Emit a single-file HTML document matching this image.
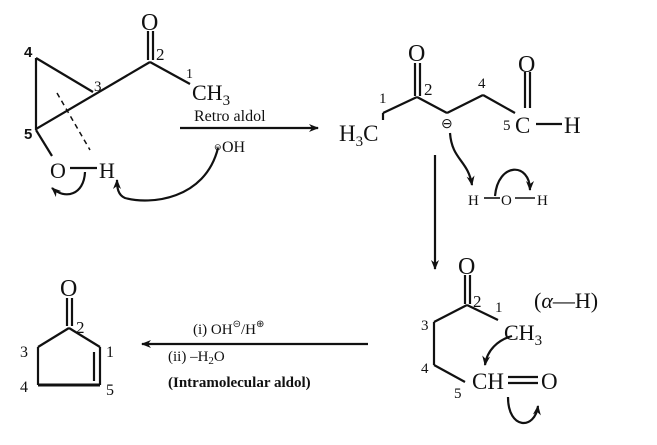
<!DOCTYPE html>
<html><head><meta charset="utf-8"><style>
html,body{margin:0;padding:0;background:#fff}
svg{display:block}
text{font-family:"Liberation Serif",serif;fill:#111}
.s{font-family:"Liberation Sans",sans-serif}
</style></head><body>
<svg width="657" height="445" viewBox="0 0 657 445" xmlns="http://www.w3.org/2000/svg">
<defs><marker id="a" markerWidth="10" markerHeight="8" refX="9" refY="4" orient="auto" markerUnits="userSpaceOnUse"><path d="M0,0 L10,4 L0,8 L3,4z" fill="#111"/></marker></defs>
<g stroke="#111" stroke-width="2.2" fill="none">
<!-- top-left -->
<line x1="148" y1="31" x2="148" y2="60"/><line x1="153" y1="31" x2="153" y2="60"/>
<line x1="150" y1="62" x2="190" y2="84"/>
<line x1="36" y1="129" x2="150" y2="62"/>
<line x1="36" y1="58" x2="93" y2="92"/>
<line x1="36" y1="58" x2="36" y2="130"/>
<line x1="36" y1="130" x2="52" y2="156"/>
<line x1="57" y1="93" x2="90" y2="150" stroke-dasharray="5,4" stroke-width="1.5"/>
<line x1="70" y1="168" x2="97" y2="168"/>
<line x1="180" y1="128" x2="318" y2="128" marker-end="url(#a)"/>
<path d="M218,148 C205,200 150,205 125,198 C118,195 117,188 117,180" marker-end="url(#a)"/>
<path d="M85,172 C84,195 65,200 52,188" marker-end="url(#a)"/>
<!-- top-right -->
<line x1="415" y1="63" x2="415" y2="96"/><line x1="420" y1="63" x2="420" y2="96"/>
<line x1="383" y1="113" x2="417" y2="97"/><line x1="417" y1="97" x2="447" y2="113"/>
<line x1="447" y1="113" x2="483" y2="95"/><line x1="483" y1="95" x2="515" y2="113"/>
<line x1="525" y1="72" x2="525" y2="108"/><line x1="530" y1="72" x2="530" y2="108"/>
<line x1="536" y1="124" x2="562" y2="124"/>
<line x1="383" y1="113" x2="383" y2="120"/>
<path d="M450,133 C452,160 468,160 472,185" marker-end="url(#a)"/>
<line x1="484" y1="198" x2="500" y2="198" stroke-width="1.6"/><line x1="515" y1="198" x2="535" y2="198" stroke-width="1.6"/>
<path d="M495,196 C498,162 530,162 530,190" marker-end="url(#a)"/>
<line x1="435" y1="155" x2="435" y2="269" marker-end="url(#a)"/>
<!-- bottom-right -->
<line x1="465" y1="275" x2="465" y2="304"/><line x1="470" y1="275" x2="470" y2="304"/>
<line x1="467" y1="305" x2="434" y2="322"/><line x1="467" y1="305" x2="498" y2="320"/>
<line x1="434" y1="322" x2="434" y2="365"/><line x1="434" y1="365" x2="465" y2="382"/>
<line x1="508" y1="377" x2="538" y2="377"/><line x1="508" y1="383" x2="538" y2="383"/>
<path d="M512,336 C498,340 487,350 485,365" marker-end="url(#a)"/>
<path d="M508,397 C508,430 535,430 538,406" marker-end="url(#a)"/>
<!-- arrow bottom -->
<line x1="368" y1="344" x2="142" y2="344" marker-end="url(#a)"/>
<!-- bottom-left -->
<line x1="67" y1="298" x2="67" y2="326"/><line x1="72" y1="298" x2="72" y2="326"/>
<line x1="69" y1="328" x2="38" y2="347"/><line x1="69" y1="328" x2="100" y2="347"/>
<line x1="38" y1="347" x2="38" y2="385"/><line x1="100" y1="347" x2="100" y2="385"/>
<line x1="94" y1="352" x2="94" y2="381"/>
<line x1="38" y1="385" x2="100" y2="385" stroke-width="3"/>
</g>
<!-- text top-left -->
<text x="141" y="30" font-size="24">O</text>
<text x="156" y="60" font-size="17">2</text>
<text x="186" y="78" font-size="14">1</text>
<text x="192" y="100" font-size="22">CH<tspan font-size="15" dy="5">3</tspan></text>
<text x="24" y="57" font-size="15" class="s" font-weight="bold">4</text>
<text x="94" y="91" font-size="15">3</text>
<text x="24" y="139" font-size="15" class="s" font-weight="bold">5</text>
<text x="50" y="178" font-size="22">O</text>
<text x="99" y="178" font-size="22">H</text>
<text x="194" y="121" font-size="16">Retro aldol</text>
<text x="214" y="150" font-size="9">⊖</text>
<text x="222" y="152" font-size="16">OH</text>
<!-- top-right -->
<text x="408" y="61" font-size="24">O</text>
<text x="424" y="95" font-size="17">2</text>
<text x="379" y="103" font-size="15">1</text>
<text x="339" y="141" font-size="23">H<tspan font-size="15" dy="5">3</tspan><tspan dy="-5">C</tspan></text>
<text x="441" y="128" font-size="14">⊖</text>
<text x="478" y="88" font-size="15">4</text>
<text x="503" y="130" font-size="15">5</text>
<text x="515" y="133" font-size="23">C</text>
<text x="564" y="133" font-size="23">H</text>
<text x="518" y="72" font-size="24">O</text>
<text x="468" y="205" font-size="15">H</text>
<text x="501" y="205" font-size="15">O</text>
<text x="537" y="205" font-size="15">H</text>
<!-- bottom-right -->
<text x="458" y="274" font-size="24">O</text>
<text x="473" y="307" font-size="17">2</text>
<text x="495" y="312" font-size="15">1</text>
<text x="504" y="340" font-size="22">CH<tspan font-size="15" dy="5">3</tspan></text>
<text x="534" y="308" font-size="22">(<tspan font-style="italic">α</tspan>—H)</text>
<text x="421" y="330" font-size="15">3</text>
<text x="421" y="373" font-size="15">4</text>
<text x="454" y="398" font-size="15">5</text>
<text x="472" y="389" font-size="23">CH</text>
<text x="541" y="389" font-size="23">O</text>
<!-- bottom arrow text -->
<text x="193" y="334" font-size="15">(i) OH<tspan font-size="10" dy="-7">⊝</tspan><tspan dy="7">/H</tspan><tspan font-size="10" dy="-7">⊕</tspan></text>
<text x="168" y="361" font-size="15">(ii) –H<tspan font-size="11" dy="3">2</tspan><tspan dy="-3">O</tspan></text>
<text x="168" y="387" font-size="15" font-weight="bold">(Intramolecular aldol)</text>
<!-- bottom-left -->
<text x="60" y="296" font-size="24">O</text>
<text x="76" y="333" font-size="17">2</text>
<text x="20" y="357" font-size="16">3</text>
<text x="106" y="357" font-size="16">1</text>
<text x="20" y="392" font-size="16">4</text>
<text x="106" y="395" font-size="16">5</text>
</svg>
</body></html>
